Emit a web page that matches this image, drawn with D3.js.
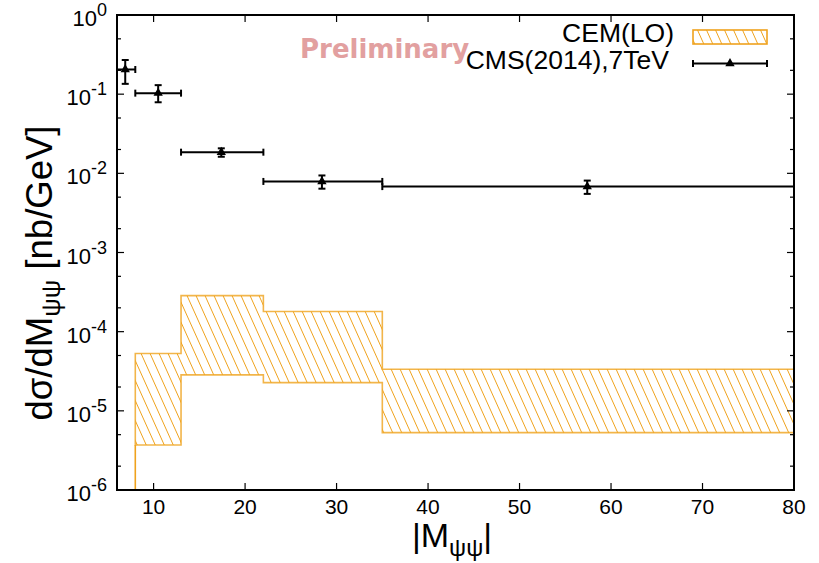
<!DOCTYPE html>
<html><head><meta charset="utf-8">
<script src="https://cdn.jsdelivr.net/npm/d3@7"></script>
<style>html,body{margin:0;padding:0;background:#fff;}svg{display:block;}</style>
</head><body>
<script>
// ---- data ----
const bandEdges = [8, 13, 22, 35, 80];
const bandLower = [3.7e-6, 2.85e-5, 2.27e-5, 5.3e-6];
const bandUpper = [5.3e-5, 2.85e-4, 1.8e-4, 3.35e-5];

const cmsX   = [6.9, 10.5, 17.4, 28.4, 57.4];
const cmsXlo = [6, 8, 13, 22, 35];
const cmsXhi = [8, 13, 22, 35, 80];
const cmsY   = [0.205, 0.103, 0.0185, 0.0079, 0.0068];
const cmsYlo = [0.135, 0.079, 0.0162, 0.0064, 0.0055];
const cmsYhi = [0.27, 0.13, 0.0207, 0.0094, 0.0081];

const xTicks = [10, 20, 30, 40, 50, 60, 70, 80];
const yExps = [0, -1, -2, -3, -4, -5, -6];
const legendLabels = ["CEM(LO)", "CMS(2014),7TeV"];

(function () {
// ---- layout ----
const W = 819, H = 563;
const m = {l: 117, r: 25, t: 15, b: 73};
const orange = "#efa21d";

const svg = d3.select("body").append("svg").attr("width", W).attr("height", H);
const defs = svg.append("defs");
const pat = defs.append("pattern").attr("id", "hatch")
  .attr("patternUnits", "userSpaceOnUse").attr("width", 9).attr("height", 20);
[[-9,0,0,20],[0,0,9,20],[9,0,18,20]].forEach(c => pat.append("line")
  .attr("x1", c[0]).attr("y1", c[1]).attr("x2", c[2]).attr("y2", c[3])
  .attr("stroke", orange).attr("stroke-width", 1));
defs.append("clipPath").attr("id", "clip").append("rect")
  .attr("x", m.l).attr("y", m.t).attr("width", W - m.l - m.r).attr("height", H - m.t - m.b);

const x = d3.scaleLinear().domain([6, 80]).range([m.l, W - m.r]);
const y = d3.scaleLog().domain([1e-6, 1]).range([H - m.b, m.t]);

// ---- band ----
const bandPts = bandEdges.map((e, i) => ({x: e, lo: bandLower[Math.min(i, bandLower.length - 1)], hi: bandUpper[Math.min(i, bandUpper.length - 1)]}));
const g = svg.append("g").attr("clip-path", "url(#clip)");
const area = d3.area().curve(d3.curveStepAfter).x(d => x(d.x)).y0(d => y(d.lo)).y1(d => y(d.hi));
g.append("path").datum(bandPts).attr("d", area).attr("fill", "url(#hatch)")
  .attr("stroke", orange).attr("stroke-width", 1.6).attr("stroke-opacity", 0.8);
g.append("line").attr("x1", x(bandEdges[0])).attr("x2", x(bandEdges[0]))
  .attr("y1", y(bandLower[0])).attr("y2", y(1e-6))
  .attr("stroke", orange).attr("stroke-width", 1.6);

// ---- CMS data ----
const eg = svg.append("g").attr("stroke", "#000").attr("stroke-width", 2).attr("fill", "none");
const cap = 3.5;
cmsX.forEach((cx, i) => {
  const px = x(cx), py = y(cmsY[i]);
  const x0 = x(cmsXlo[i]), x1 = x(cmsXhi[i]);
  const y0 = y(cmsYlo[i]), y1 = y(cmsYhi[i]);
  eg.append("line").attr("x1", x0).attr("x2", x1).attr("y1", py).attr("y2", py);
  eg.append("line").attr("x1", x0).attr("x2", x0).attr("y1", py - cap).attr("y2", py + cap);
  eg.append("line").attr("x1", x1).attr("x2", x1).attr("y1", py - cap).attr("y2", py + cap);
  eg.append("line").attr("x1", px).attr("x2", px).attr("y1", y0).attr("y2", y1);
  eg.append("line").attr("x1", px - cap).attr("x2", px + cap).attr("y1", y0).attr("y2", y0);
  eg.append("line").attr("x1", px - cap).attr("x2", px + cap).attr("y1", y1).attr("y2", y1);
  svg.append("path").attr("d", d3.symbol(d3.symbolTriangle, 38)())
    .attr("transform", `translate(${px},${py})`).attr("fill", "#000");
});

// ---- axes / frame ----
const ax = svg.append("g").attr("stroke", "#000");
const pBottom = H - m.b, pTop = m.t, pLeft = m.l, pRight = W - m.r;
xTicks.forEach(t => {
  ax.append("line").attr("x1", x(t)).attr("x2", x(t)).attr("y1", pBottom).attr("y2", pBottom - 7).attr("stroke-width", 1.2);
  ax.append("line").attr("x1", x(t)).attr("x2", x(t)).attr("y1", pTop).attr("y2", pTop + 7).attr("stroke-width", 1.2);
});
const font = "'Liberation Sans', Arial, Helvetica, sans-serif";
svg.append("g").selectAll("text").data(xTicks).join("text")
  .attr("x", d => x(d)).attr("y", 514).attr("text-anchor", "middle")
  .attr("font-family", font).attr("font-size", 21).text(d => d);

yExps.forEach(e => {
  const v = Math.pow(10, e);
  ax.append("line").attr("x1", pLeft).attr("x2", pLeft + 7).attr("y1", y(v)).attr("y2", y(v)).attr("stroke-width", 1.2);
  ax.append("line").attr("x1", pRight).attr("x2", pRight - 7).attr("y1", y(v)).attr("y2", y(v)).attr("stroke-width", 1.2);
  if (e > -6) [2, 5].forEach(k => {
    const mv = k * Math.pow(10, e - 1);
    ax.append("line").attr("x1", pLeft).attr("x2", pLeft + 4).attr("y1", y(mv)).attr("y2", y(mv)).attr("stroke-width", 1.2);
    ax.append("line").attr("x1", pRight).attr("x2", pRight - 4).attr("y1", y(mv)).attr("y2", y(mv)).attr("stroke-width", 1.2);
  });
});
const yl = svg.append("g").selectAll("text").data(yExps).join("text")
  .attr("x", 107).attr("y", d => y(Math.pow(10, d)) + 11).attr("text-anchor", "end")
  .attr("font-family", font).attr("font-size", 22);
yl.append("tspan").text("10");
yl.append("tspan").attr("dy", -10).attr("font-size", 18).text(d => d === 0 ? "0" : "-" + (-d));

svg.append("rect").attr("x", pLeft).attr("y", pTop).attr("width", pRight - pLeft).attr("height", pBottom - pTop)
  .attr("fill", "none").attr("stroke", "#000").attr("stroke-width", 2);

// ---- titles ----
const yt = svg.append("text").attr("transform", "translate(52,273) rotate(-90)")
  .attr("text-anchor", "middle").attr("font-family", font).attr("font-size", 36.5);
yt.append("tspan").text("dσ/dM");
yt.append("tspan").attr("dy", 8).attr("font-size", 26).text("ψψ");
yt.append("tspan").attr("dy", -8).text(" [nb/GeV]");

const xt = svg.append("text").attr("x", 452).attr("y", 547).attr("text-anchor", "middle")
  .attr("font-family", font).attr("font-size", 34);
xt.append("tspan").text("|M");
xt.append("tspan").attr("dy", 9).attr("font-size", 24).text("ψψ");
xt.append("tspan").attr("dy", -9).text("|");

// ---- preliminary ----
svg.append("text").attr("x", 300).attr("y", 58).attr("font-family", "'DejaVu Sans', sans-serif")
  .attr("font-weight", "bold").attr("font-size", 26).attr("fill", "#e2a0a0").text("Preliminary");

// ---- legend ----
const lg = svg.append("g");
lg.selectAll("text").data(legendLabels).join("text")
  .attr("x", (d, i) => i === 0 ? 674 : 669).attr("y", (d, i) => 42 + i * 27).attr("text-anchor", "end")
  .attr("font-family", font).attr("font-size", 26.5).text(d => d);
lg.append("rect").attr("x", 693).attr("y", 30).attr("width", 74).attr("height", 14)
  .attr("fill", "url(#hatch)").attr("stroke", orange).attr("stroke-width", 1.6);
const ly = 63.5;
const lgl = lg.append("g").attr("stroke", "#000").attr("stroke-width", 2);
lgl.append("line").attr("x1", 693).attr("x2", 767).attr("y1", ly).attr("y2", ly);
lgl.append("line").attr("x1", 693).attr("x2", 693).attr("y1", ly - cap).attr("y2", ly + cap);
lgl.append("line").attr("x1", 767).attr("x2", 767).attr("y1", ly - cap).attr("y2", ly + cap);
lg.append("path").attr("d", d3.symbol(d3.symbolTriangle, 38)()).attr("transform", `translate(730,${ly})`).attr("fill", "#000");
})();
</script>
</body></html>
